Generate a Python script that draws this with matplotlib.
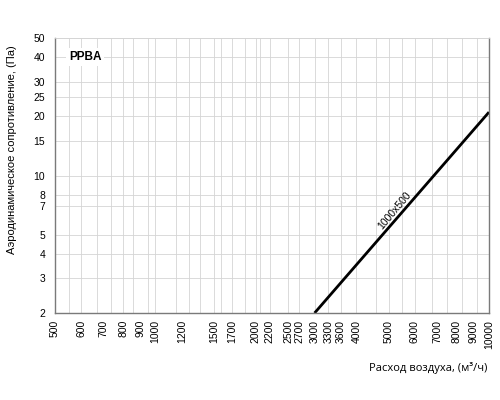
import numpy as np
import matplotlib.pyplot as plt
from matplotlib.ticker import FixedLocator, NullLocator

# airflow, m3/h and pressure drop, Pa
flow = [3000, 10000]
dp = [2.0, 21.0]

x_ticks = [500, 600, 700, 800, 900, 1000, 1200, 1500, 1700, 2000, 2200, 2500,
           2700, 3000, 3300, 3600, 4000, 5000, 6000, 7000, 8000, 9000, 10000]
x_grid = [550, 600, 670, 735, 800, 855, 950, 1000, 1150, 1260, 1365, 1500, 1570,
          1700, 1860, 2000, 2065, 2200, 2500, 2700, 3000, 3300, 3600, 4000, 4580,
          5000, 5500, 6000, 6740, 7480, 8300, 9200]
y_ticks = [2, 3, 4, 5, 7, 8, 10, 15, 20, 25, 30, 40, 50]

plt.rcParams['font.family'] = ['Liberation Sans', 'DejaVu Sans']

fig = plt.figure(figsize=(5, 4), dpi=100)
ax = fig.add_axes([0.11, 0.2175, 0.868, 0.6875])

ax.set_xscale('log')
ax.set_yscale('log')
ax.set_xlim(500, 10000)
ax.set_ylim(2, 50)

ax.xaxis.set_major_locator(FixedLocator(x_ticks))
ax.xaxis.set_minor_locator(NullLocator())
ax.set_xticklabels([str(v) for v in x_ticks], rotation=90, fontsize=7.5)
ax.yaxis.set_major_locator(FixedLocator(y_ticks))
ax.yaxis.set_minor_locator(NullLocator())
ax.set_yticklabels([str(v) for v in y_ticks], fontsize=7.5)
ax.tick_params(axis='x', length=0, pad=5)
ax.tick_params(axis='y', length=0, pad=7)

for v in x_grid:
    ax.axvline(v, color='#d4d4d4', lw=0.6, zorder=0)
for v in y_ticks:
    ax.axhline(v, color='#d4d4d4', lw=0.6, zorder=0)

for s in ['left', 'bottom', 'right']:
    ax.spines[s].set_color('#7a7a7a')
    ax.spines[s].set_linewidth(1.0)
ax.spines['top'].set_color('#d4d4d4')
ax.spines['top'].set_linewidth(0.6)

ax.plot(flow, dp, color='black', lw=2, solid_capstyle='butt', clip_on=False)

ax.annotate('1000x500', xy=(5410, 6.33), xytext=(-3.8, 3.2), textcoords='offset points',
            rotation=50, fontsize=7.5, ha='center', va='center',
            rotation_mode='anchor')
ax.text(550, 40, 'PPBA', fontsize=8.5, fontweight='bold', va='center', ha='left',
        bbox=dict(facecolor='white', edgecolor='none', pad=2))

fig.text(0.024, 0.625, 'Аэродинамическое сопротивление, (Па)', rotation=90,
         fontsize=8, ha='center', va='center')
fig.text(0.974, 0.08, 'Расход воздуха, (м³/ч)', fontsize=8, ha='right', va='center',
         family=['Open Sans', 'DejaVu Sans'])

fig.savefig('out.png', dpi=100)
